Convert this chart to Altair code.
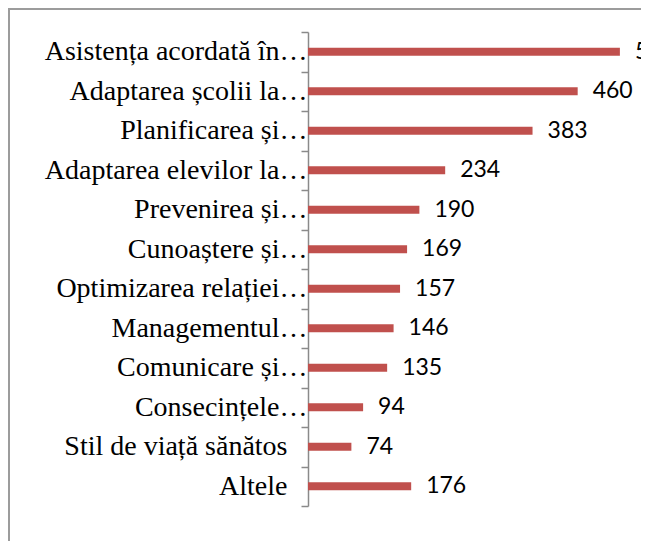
import altair as alt
import pandas as pd

categories = [
    "Asistența acordată în…",
    "Adaptarea școlii la…",
    "Planificarea și…",
    "Adaptarea elevilor la…",
    "Prevenirea și…",
    "Cunoaștere și…",
    "Optimizarea relației…",
    "Managementul…",
    "Comunicare și…",
    "Consecințele…",
    "Stil de viață sănătos",
    "Altele",
]
values = [532, 460, 383, 234, 190, 169, 157, 146, 135, 94, 74, 176]

df = pd.DataFrame({"cat": categories, "val": values})

BAR = "#C0504D"
AXIS_GRAY = "#8a8a8a"
FRAME_GRAY = "#9c9c9c"

y_enc = alt.Y(
    "cat:N",
    sort=categories,
    title=None,
    scale=alt.Scale(paddingInner=0, paddingOuter=0),
    axis=alt.Axis(
        tickBand="extent",
        tickSize=7,
        tickColor=AXIS_GRAY,
        tickWidth=1.5,
        domainColor=AXIS_GRAY,
        domainWidth=1.5,
        labelFont="Liberation Serif",
        labelFontSize=28,
        labelColor="black",
        labelLimit=0,
        labelBaseline="middle",
        labelPadding={"condition": {"test": "indexof(datum.label, '…') < 0", "value": 14}, "value": -6},
        grid=False,
    ),
)
x_enc = alt.X("val:Q", axis=None, scale=alt.Scale(domain=[0, 568], nice=False, zero=True))

bars = alt.Chart(df).mark_bar(size=8, color=BAR).encode(x=x_enc, y=y_enc)
labels = alt.Chart(df).mark_text(
    align="left", baseline="middle", dx=15, font="Lato", fontSize=23, color="black"
).encode(x=x_enc, y=alt.Y("cat:N", sort=categories), text="val:Q")

one = pd.DataFrame({"f": [0]})
frame_top = alt.Chart(one).mark_rule(color=FRAME_GRAY, strokeWidth=2).encode(
    x=alt.value(-299), x2=alt.value(400), y=alt.value(-23)
)
frame_left = alt.Chart(one).mark_rule(color=FRAME_GRAY, strokeWidth=2).encode(
    x=alt.value(-299), y=alt.value(-24), y2=alt.value(600)
)

chart = alt.layer(frame_top, frame_left, bars, labels).properties(
    width=333,
    height=474,
    padding={"left": 300, "top": 24, "right": 0, "bottom": 35},
    autosize="none",
).configure_view(stroke=None)

chart.save("out.html", embed_options={"renderer": "svg", "actions": False})
